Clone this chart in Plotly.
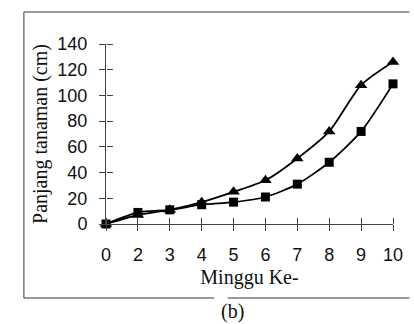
import plotly.graph_objects as go

# Week numbers (categorical axis, week 1 not recorded)
weeks = ["0", "2", "3", "4", "5", "6", "7", "8", "9", "10"]
# Plant length (cm) for the two treatments
length_triangle = [0, 7, 11, 17, 25, 34, 51, 72, 108, 126]
length_square = [0, 9, 11, 15, 17, 21, 31, 48, 72, 109]

y_ticks = [0, 20, 40, 60, 80, 100, 120, 140]

W, H = 414, 324
L, R, T, B = 106, 11, 44, 100
pw, ph = W - L - R, H - T - B


def px(x):
    return (x - L) / pw


def py(y):
    return (H - B - y) / ph


fig = go.Figure()
fig.add_trace(go.Scatter(
    x=weeks, y=length_triangle, mode="lines+markers",
    line=dict(color="black", width=1.8, shape="spline", smoothing=0.7),
    marker=dict(symbol="triangle-up", size=11, color="black"),
    cliponaxis=False, showlegend=False,
))
fig.add_trace(go.Scatter(
    x=weeks, y=length_square, mode="lines+markers",
    line=dict(color="black", width=1.8, shape="spline", smoothing=0.7),
    marker=dict(symbol="square", size=9, color="black"),
    cliponaxis=False, showlegend=False,
))
# invisible trace on the mirror axes, which carry the half of each
# tick mark that points into the plot
fig.add_trace(go.Scatter(
    x=weeks, y=length_square, xaxis="x2", yaxis="y2",
    mode="markers", marker=dict(opacity=0),
    hoverinfo="skip", showlegend=False,
))

tick_font = dict(family="Liberation Sans", size=18, color="#111")
serif = dict(family="Liberation Serif", size=20, color="#111")
tick_color = "#444"

fig.update_layout(
    width=W, height=H,
    margin=dict(l=L, r=R, t=T, b=B),
    paper_bgcolor="white", plot_bgcolor="white",
    xaxis=dict(
        type="category", categoryorder="array", categoryarray=weeks,
        range=[0, len(weeks) - 1],
        showgrid=False, zeroline=False,
        showline=True, linecolor=tick_color, linewidth=1,
        ticks="outside", ticklen=6, tickcolor=tick_color, tickwidth=1.2,
        tickfont=tick_font, ticklabelstandoff=8,
        title=dict(text="Minggu Ke-", font=serif, standoff=6),
    ),
    xaxis2=dict(
        type="category", categoryorder="array", categoryarray=weeks,
        range=[0, len(weeks) - 1], overlaying="x",
        anchor="free", position=0, side="top",
        showgrid=False, zeroline=False, showticklabels=False,
        showline=False,
        ticks="outside", ticklen=6, tickcolor=tick_color, tickwidth=1.2,
    ),
    yaxis=dict(
        range=[0, 140], tickvals=y_ticks,
        showgrid=False, zeroline=False,
        showline=True, linecolor=tick_color, linewidth=1,
        ticks="outside", ticklen=6, tickcolor=tick_color, tickwidth=1.2,
        tickfont=tick_font, ticklabelstandoff=8,
        title=dict(text="Panjang tanaman (cm)", font=serif, standoff=4),
    ),
    yaxis2=dict(
        range=[0, 140], tickvals=y_ticks, overlaying="y",
        anchor="free", position=0, side="right",
        showgrid=False, zeroline=False, showticklabels=False,
        showline=False,
        ticks="outside", ticklen=6, tickcolor=tick_color, tickwidth=1.2,
    ),
)

# surrounding panel frame with a gap under the caption
frame = dict(color="#777", width=1.5)
x0, x1 = px(21), px(420)
y0, y1 = py(12), py(298)
for seg in [((x0, y1), (x0, y0)), ((x0, y0), (x1, y0)),
            ((x0, y1), (px(218), y1)), ((px(232), y1), (x1, y1))]:
    fig.add_shape(type="line", xref="paper", yref="paper",
                  x0=seg[0][0], y0=seg[0][1], x1=seg[1][0], y1=seg[1][1],
                  line=frame)

fig.add_annotation(text="(b)", xref="paper", yref="paper",
                   x=px(237), y=py(311), showarrow=False,
                   font=serif, xanchor="center", yanchor="middle")

fig.write_html("out.html")
